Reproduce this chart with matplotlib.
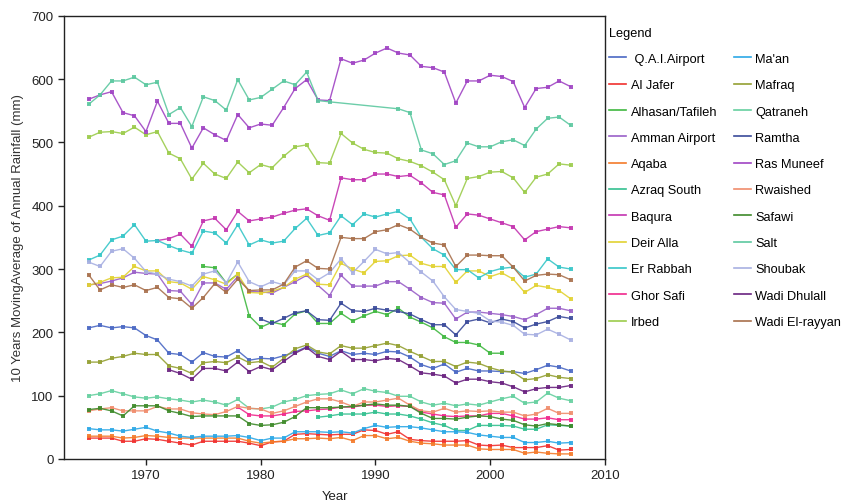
import numpy as np
import matplotlib
matplotlib.use('Agg')
import matplotlib.pyplot as plt
from matplotlib.lines import Line2D

plt.rcParams['font.family'] = ['Liberation Sans', 'DejaVu Sans']

nan = np.nan
years = np.arange(1965, 2008)

# 10-year moving average of annual rainfall (mm), 1965-2007
qai_airport = [207, 211, 207, 209, 207, 195, 188, 167, 165, 153,
               168, 162, 161, 171, 156, 159, 158, 163, 169, 177,
               167, 162, 171, 165, 167, 165, 170, 169, 161, 149,
               143, 150, 137, 143, 139, 139, 138, 138, 135, 141,
               148, 145, 139]
al_jafer = [33, 33, 33, 28, 28, 32, 31, 28, 25, 22,
            28, 28, 28, 28, 25, 21, 27, 28, 39, 40,
            39, 38, 39, 39, 46, 45, 39, 43, 31, 29,
            28, 28, 28, 29, 22, 21, 22, 18, 18, 18,
            21, 14, 15]
alhasan = [nan] * 10 + [304, 302, 278, 292, 226, 208, 216, 212, 229, 234,
                        214, 214, 230, 218, 226, 233, 228, 238, 224, 216,
                        207, 193, 184, 184, 180, 167, 167] + [nan] * 6
amman_airport = [275, 277, 281, 286, 295, 293, 292, 266, 265, 244,
                 278, 278, 268, 288, 265, 264, 262, 271, 280, 290,
                 274, 258, 290, 273, 273, 273, 280, 280, 268, 255,
                 247, 246, 221, 232, 232, 230, 228, 225, 220, 228,
                 238, 238, 234]
aqaba = [36, 36, 36, 33, 34, 37, 36, 34, 33, 33,
         33, 33, 33, 33, 28, 25, 27, 28, 32, 32,
         33, 32, 34, 29, 37, 37, 32, 34, 28, 25,
         24, 22, 22, 22, 16, 15, 15, 15, 9, 11,
         9, 8, 8]
azraq_south = [nan] * 20 + [66, 68, 71, 71, 71, 74, 71, 71, 68, 63,
                            57, 53, 45, 45, 53, 53, 53, 52, 47, 47,
                            54, 53, 52]
baqura = [nan] * 6 + [345, 348, 355, 336,
                      376, 380, 362, 391, 376, 379, 382, 388, 393, 395,
                      384, 377, 444, 441, 441, 450, 450, 446, 448, 436,
                      421, 417, 366, 387, 385, 379, 373, 367, 346, 359,
                      363, 367, 365]
deir_alla = [274, 279, 286, 287, 304, 297, 297, 280, 278, 268,
             288, 283, 276, 292, 263, 262, 265, 271, 284, 292,
             276, 275, 309, 300, 294, 312, 313, 321, 322, 309,
             304, 304, 279, 297, 297, 288, 294, 284, 263, 274,
             271, 266, 253]
er_rabbah = [314, 322, 346, 352, 370, 344, 345, 337, 330, 325,
             360, 357, 341, 370, 338, 346, 341, 344, 364, 380,
             353, 357, 384, 370, 387, 382, 387, 391, 379, 350,
             332, 322, 299, 299, 286, 296, 301, 303, 287, 292,
             316, 303, 300]
ghor_safi = [nan] * 13 + [82, 70, 68, 68, 71, 75, 76,
                          78, 79, 82, 82, 85, 85, 83, 84, 83, 74,
                          71, 68, 67, 68, 68, 72, 72, 68, 63, 63,
                          65, 62, 62]
irbed = [508, 516, 517, 514, 524, 512, 517, 483, 474, 442,
         467, 450, 443, 469, 452, 465, 460, 478, 493, 496,
         468, 467, 514, 499, 489, 484, 483, 474, 470, 463,
         453, 441, 400, 443, 446, 453, 454, 444, 421, 445,
         450, 466, 464]
maan = [48, 46, 46, 44, 47, 50, 44, 41, 36, 34,
        36, 36, 36, 37, 34, 29, 33, 33, 43, 43,
        43, 42, 43, 41, 48, 53, 50, 51, 51, 49,
        46, 43, 43, 42, 38, 36, 34, 34, 26, 26,
        28, 25, 26]
mafraq = [153, 153, 159, 162, 167, 165, 165, 147, 143, 135,
          152, 154, 152, 161, 152, 154, 145, 159, 174, 180,
          169, 166, 179, 175, 175, 179, 183, 179, 170, 162,
          154, 154, 146, 153, 151, 144, 139, 137, 125, 127,
          133, 129, 127]
qatraneh = [100, 103, 108, 103, 98, 96, 98, 95, 93, 90,
            93, 90, 85, 94, 80, 79, 82, 90, 94, 100,
            102, 103, 109, 103, 111, 107, 105, 99, 99, 90,
            85, 88, 84, 87, 85, 90, 95, 99, 88, 90,
            104, 96, 92]
ramtha = [nan] * 15 + [221, 214, 222, 231, 234,
                       220, 219, 246, 234, 233, 238, 235, 233, 229, 220,
                       212, 212, 196, 217, 221, 215, 221, 217, 207, 213,
                       217, 225, 222]
ras_muneef = [568, 575, 580, 547, 542, 517, 565, 530, 530, 491,
              523, 512, 503, 544, 523, 529, 527, 555, 585, 599,
              567, 566, 632, 625, 630, 641, 649, 641, 638, 620,
              618, 611, 562, 597, 597, 606, 604, 596, 555, 585,
              587, 597, 588]
rwaished = [76, 79, 81, 76, 76, 76, 83, 79, 79, 73,
            71, 70, 75, 83, 80, 79, 72, 76, 83, 90,
            95, 95, 90, 83, 90, 90, 93, 96, 85, 76,
            74, 80, 74, 76, 75, 76, 74, 74, 68, 71,
            80, 72, 72]
safawi = [78, 80, 76, 68, 84, 84, 84, 76, 72, 67,
          68, 68, 68, 68, 56, 53, 54, 58, 67, 81,
          81, 81, 82, 83, 85, 87, 85, 85, 83, 72,
          64, 64, 63, 66, 68, 67, 63, 61, 54, 52,
          56, 54, 52]
salt = [560, 575, 597, 597, 603, 591, 595, 544, 555, 525,
        572, 566, 551, 599, 567, 571, 584, 597, 591, 611,
        566, 564, nan, nan, nan, nan, nan, 553, 547, 488,
        482, 465, 471, 499, 493, 493, 501, 504, 495, 521,
        538, 540, 527]
shoubak = [311, 304, 328, 332, 317, 296, 292, 284, 280, 273,
           292, 297, 278, 311, 280, 272, 280, 275, 297, 297,
           283, 294, 316, 294, 312, 331, 324, 326, 310, 295,
           281, 256, 236, 233, 230, 218, 216, 211, 197, 196,
           205, 197, 188]
wadi_dhulail = [nan] * 7 + [141, 135, 126,
                            143, 143, 139, 153, 138, 146, 141, 154, 167, 176,
                            162, 157, 170, 157, 157, 155, 159, 157, 147, 136,
                            134, 131, 120, 126, 126, 122, 120, 114, 106, 111,
                            113, 113, 116]
wadi_el_rayyan = [291, 267, 275, 271, 275, 266, 271, 255, 253, 238,
                  255, 277, 263, 284, 266, 267, 267, 276, 303, 313,
                  301, 300, 350, 348, 348, 359, 362, 370, 363, 350,
                  341, 338, 304, 322, 322, 321, 321, 303, 281, 290,
                  292, 291, 283]

stations = [' Q.A.I.Airport', 'Al Jafer', 'Alhasan/Tafileh', 'Amman Airport',
            'Aqaba', 'Azraq South', 'Baqura', 'Deir Alla', 'Er Rabbah',
            'Ghor Safi', 'Irbed', "Ma'an", 'Mafraq', 'Qatraneh', 'Ramtha',
            'Ras Muneef', 'Rwaished', 'Safawi', 'Salt', 'Shoubak',
            'Wadi Dhulall', 'Wadi El-rayyan']
series = [qai_airport, al_jafer, alhasan, amman_airport, aqaba, azraq_south,
          baqura, deir_alla, er_rabbah, ghor_safi, irbed, maan, mafraq,
          qatraneh, ramtha, ras_muneef, rwaished, safawi, salt, shoubak,
          wadi_dhulail, wadi_el_rayyan]
colors = ['#4a68c4', '#f0302e', '#40b840', '#9a60c8', '#f47a2a', '#34c090',
          '#c434b0', '#e2d232', '#36c6c8', '#f0288c', '#9ccc4c', '#2ca8e6',
          '#94a032', '#66d0a0', '#3a4a9a', '#a044c4', '#f08c6c', '#3e8a2a',
          '#5cc8a0', '#a8b0e2', '#6a2280', '#a8704c']

fig = plt.figure(figsize=(8.5, 5.02), dpi=100)
ax = fig.add_axes([0.0753, 0.0837, 0.6365, 0.883])

handles = []
for name, vals, c in zip(stations, series, colors):
    v = np.array(vals, dtype=float)
    m = ~np.isnan(v)
    ax.plot(years[m], v[m], color=c, lw=1.0, marker='s', markersize=2.2,
            markeredgewidth=0, alpha=0.9)
    handles.append(Line2D([], [], color=c, lw=1.2))

ax.set_xlim(1962.86, 2010)
ax.set_ylim(0, 700)
ax.set_xticks([1970, 1980, 1990, 2000, 2010])
ax.set_yticks(range(0, 701, 100))
ax.tick_params(direction='out', length=4, width=1, labelsize=9.5, colors='#222222')
for s in ax.spines.values():
    s.set_linewidth(1.0)
    s.set_color('#222222')

ax.set_xlabel('Year', fontsize=9.5, color='#222222', labelpad=6)
ax.set_ylabel('10 Years MovingAverage of Annual Rainfall (mm)', fontsize=9.5,
              color='#333333', labelpad=5)

fig.legend(handles, stations, loc='upper left', bbox_to_anchor=(0.717, 0.945),
           ncol=2, frameon=False, title='Legend', alignment='left',
           fontsize=9.2, title_fontsize=9.2, handlelength=1.3, handletextpad=0.35,
           labelspacing=1.12, columnspacing=1.35, borderpad=0, borderaxespad=0)

fig.savefig('out.png', dpi=100)
